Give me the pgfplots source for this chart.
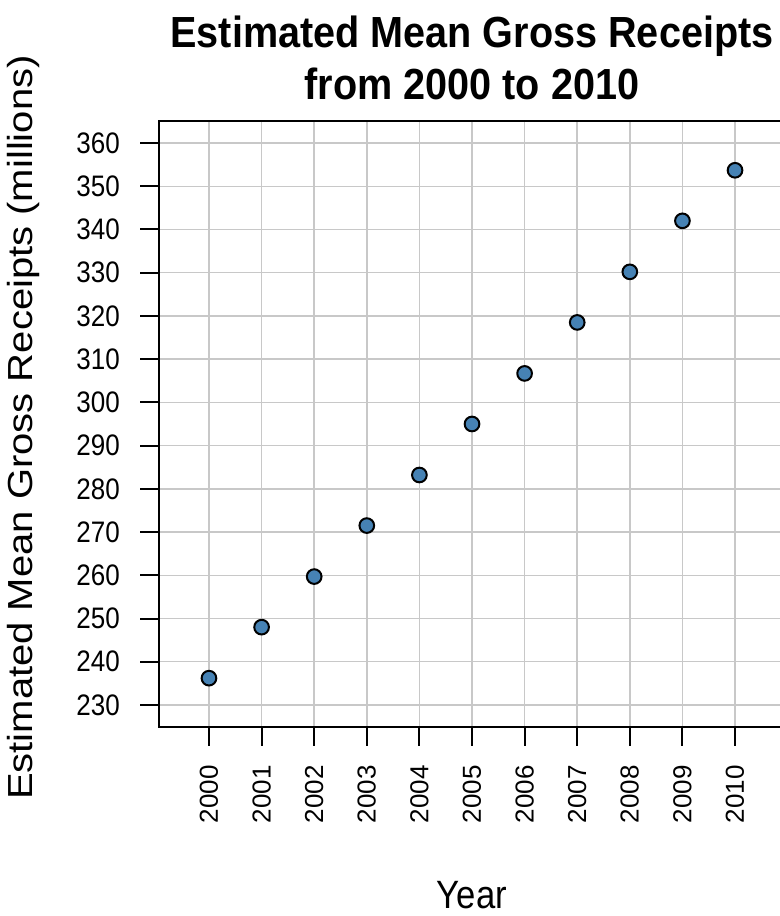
\documentclass[border=0pt]{standalone}
\usepackage{fontspec}
\setmainfont{Liberation Sans}
\usepackage{graphicx}
\usepackage{pgfplots}
\pgfplotsset{compat=1.18}
\definecolor{gridgray}{RGB}{200,200,200}
\definecolor{steelblue}{RGB}{70,130,180}

\begin{document}
\begin{tikzpicture}
\begin{axis}[
    at={(119.25pt,141.75pt)}, anchor=south west,
    scale only axis, width=469.5pt, height=454.5pt,
    xmin=1999.05, xmax=2010.95, ymin=224.9, ymax=365.1,
    xtick={2000,...,2010}, ytick={230,240,...,360},
    tick pos=left, tick align=outside, major tick length=14pt,
    grid=major, major grid style={gridgray, line width=1.1pt},
    axis line style={black, line width=1.5pt},
    major tick style={black, line width=1.5pt},
    /pgf/number format/assume math mode=true,
    /pgf/number format/1000 sep={},
    tick label style={font=\fontsize{19.5}{23}\selectfont, inner sep=0pt},
    xticklabel style={rotate=90, anchor=east},
    yticklabel style={anchor=east},
    yticklabel={\scalebox{1}[1.14]{\pgfmathprintnumber{\tick}}},
    xticklabel shift=14.5pt, yticklabel shift=15.25pt,
    title={\scalebox{1}[1.1]{Estimated Mean Gross Receipts}\\\scalebox{1}[1.1]{from 2000 to 2010}},
    title style={at={(axis description cs:0.5,1.1608)}, anchor=north, align=center,
        inner sep=0pt, font=\fontsize{29.7}{39}\selectfont\bfseries},
    xlabel={\scalebox{1}[1.14]{Year}},
    xlabel style={at={(axis description cs:0.5,-0.3003)}, anchor=base,
        inner sep=0pt, font=\fontsize{26}{30}\selectfont},
    ylabel={\scalebox{1}[0.87]{Estimated Mean Gross Receipts (millions)}},
    ylabel style={at={(axis description cs:-0.2013,0.494)}, anchor=base, rotate=0,
        inner sep=0pt, font=\fontsize{30}{34}\selectfont},
]
\addplot [only marks, mark=*, mark size=5.5pt,
    mark options={fill=steelblue, draw=black, line width=1.5pt}]
    coordinates {
    (2000,236.2) (2001,248.0) (2002,259.7) (2003,271.5) (2004,283.2)
    (2005,295.0) (2006,306.7) (2007,318.5) (2008,330.2) (2009,342.0)
    (2010,353.7)
    };
\end{axis}
\pgfresetboundingbox
\path[use as bounding box] (0,0) rectangle (584.25pt,687pt);
\end{tikzpicture}
\end{document}
